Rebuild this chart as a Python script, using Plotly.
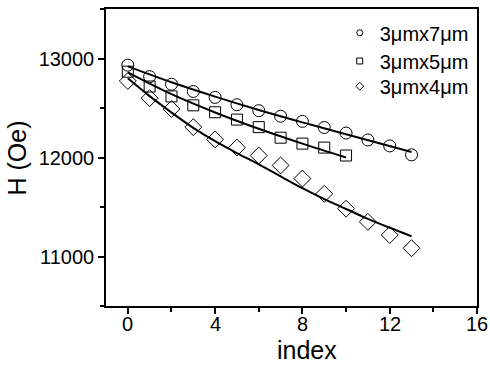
import plotly.graph_objects as go

index_pts = list(range(14))
h_7um = [12933, 12817, 12740, 12667, 12607, 12533, 12473, 12417, 12365, 12303, 12247, 12177, 12117, 12027]
index_5um = list(range(11))
h_5um = [12867, 12717, 12617, 12527, 12457, 12383, 12307, 12200, 12140, 12100, 12020]
h_4um = [12773, 12600, 12490, 12307, 12183, 12100, 12020, 11920, 11787, 11633, 11483, 11350, 11217, 11083]

fit_x_7 = [0, 2, 4, 6, 8, 10, 13]
fit_7um = [12920, 12760, 12615, 12480, 12355, 12235, 12055]
fit_x_5 = [0, 2, 4, 6, 8, 10]
fit_5um = [12860, 12640, 12455, 12290, 12140, 12000]
fit_x_4 = list(range(14))
fit_4um = [12800, 12620, 12455, 12300, 12165, 12045, 11930, 11810, 11690, 11580, 11480, 11380, 11290, 11205]

labels = ["3\u03bcmx7\u03bcm", "3\u03bcmx5\u03bcm", "3\u03bcmx4\u03bcm"]
x_ticks = [0, 4, 8, 12, 16]
x_tick_labels = ["0", "4", "8", "12", "16"]
y_ticks = [11000, 12000, 13000]
x_title = "index"
y_title = "H (Oe)"

FONT = "Arial, Liberation Sans, sans-serif"
fig = go.Figure()

series = [
    (index_pts, h_7um, fit_x_7, fit_7um, "circle-open", 12),
    (index_5um, h_5um, fit_x_5, fit_5um, "square-open", 11),
    (index_pts, h_4um, fit_x_4, fit_4um, "diamond-open", 13),
]
legend_ids = ["legend", "legend2", "legend3"]
for (xs, ys, fx, fy, sym, sz), lab, lid in zip(series, labels, legend_ids):
    fig.add_trace(go.Scatter(x=fx, y=fy, mode="lines", line=dict(color="black", width=2, shape="spline"),
                             showlegend=False, hoverinfo="skip"))
    fig.add_trace(go.Scatter(x=xs, y=ys, mode="markers", showlegend=False,
                             marker=dict(symbol=sym, size=sz, color="black", line=dict(width=1, color="black"))))
    fig.add_trace(go.Scatter(x=[None], y=[None], mode="markers", name=lab, legend=lid,
                             marker=dict(symbol=sym, size=6, color="black", line=dict(width=1, color="black"))))

axis_common = dict(showline=True, linecolor="black", linewidth=1.5, mirror=True, ticks="outside",
                   ticklen=6, tickwidth=1.5, tickcolor="black", showgrid=False, zeroline=False,
                   tickformat="d", tickfont=dict(size=20, color="black", family=FONT))
fig.update_xaxes(range=[-1, 16], tickvals=x_ticks, showticklabels=False,
                 minor=dict(dtick=2, tick0=0, ticklen=4, tickwidth=1.5, tickcolor="black", ticks="outside"), **axis_common)
fig.update_yaxes(range=[10500, 13500], tickvals=y_ticks,
                 minor=dict(dtick=500, tick0=0, ticklen=4, tickwidth=1.5, tickcolor="black", ticks="outside"), **axis_common)

for xv, lab in zip(x_ticks, x_tick_labels):
    fig.add_annotation(text=lab, xref="x", yref="paper", x=xv, y=-0.061, xanchor="center", yanchor="middle",
                       showarrow=False, font=dict(size=20, color="black", family=FONT))

fig.add_annotation(text=x_title, xref="paper", yref="paper", x=0.542, y=-0.148, xanchor="center", yanchor="middle",
                   showarrow=False, font=dict(size=25, color="black", family=FONT))
fig.add_annotation(text=y_title, xref="paper", yref="paper", x=-0.24, y=0.5, xanchor="center", yanchor="middle",
                   textangle=-90, showarrow=False, font=dict(size=25, color="black", family=FONT))

leg_common = dict(x=0.63, xanchor="left", yanchor="middle", bgcolor="rgba(0,0,0,0)",
                  font=dict(size=20, color="black", family=FONT), itemwidth=30)
fig.update_layout(
    width=490, height=368,
    margin=dict(l=106, r=13, t=7, b=62),
    paper_bgcolor="white", plot_bgcolor="white",
    font=dict(family=FONT, color="black"),
    legend=dict(y=0.92, **leg_common),
    legend2=dict(y=0.825, **leg_common),
    legend3=dict(y=0.74, **leg_common),
)

fig.write_html("out.html", post_script="document.body.style.margin='0';", config={"displayModeBar": False})
